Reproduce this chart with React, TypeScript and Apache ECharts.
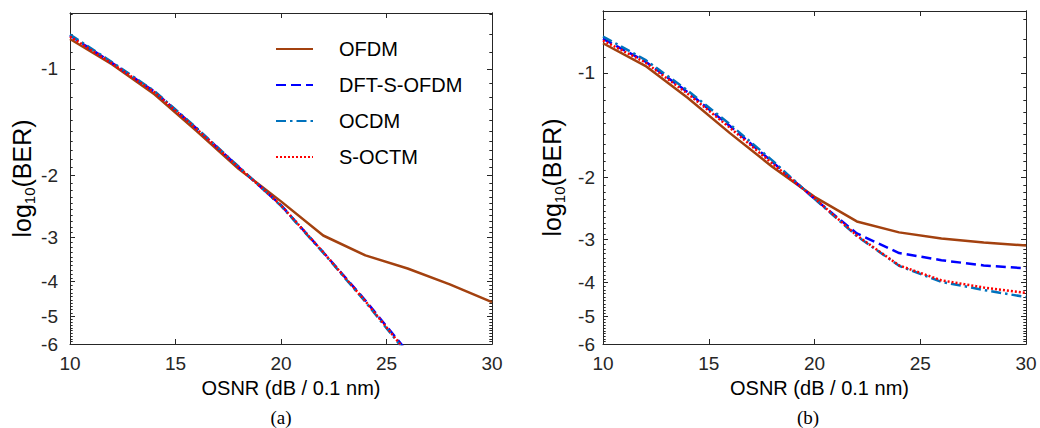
import { useEffect, useRef } from "react";
import * as echarts from "echarts";

// OSNR (dB / 0.1 nm) sample points
const osnr = [10, 12, 14, 16, 18, 20, 22, 24, 26, 28, 30];
const osnrSteep = [10, 12, 14, 16, 18, 20, 22, 24, 26];

// y tick labels (log10 BER)
const yMajorTicks = [-1, -2, -3, -4, -5, -6];

// (a) log10(BER)
const ofdmA = [-0.823, -0.972, -1.18, -1.5, -1.92, -2.37, -2.96, -3.37, -3.67, -4.07, -4.57];
const dftA = [-0.805, -0.962, -1.16, -1.474, -1.898, -2.43, -3.3, -4.52, -6.32];
const ocdmA = [-0.8, -0.958, -1.156, -1.47, -1.892, -2.44, -3.31, -4.56, -6.42];
const soctmA = [-0.81, -0.966, -1.164, -1.478, -1.9, -2.43, -3.3, -4.54, -6.38];

// (b) log10(BER)
const ofdmB = [-0.823, -0.955, -1.18, -1.49, -1.86, -2.27, -2.67, -2.87, -2.99, -3.07, -3.13];
const dftB = [-0.799, -0.928, -1.136, -1.422, -1.8, -2.3, -2.89, -3.29, -3.45, -3.57, -3.64];
const ocdmB = [-0.787, -0.918, -1.124, -1.406, -1.784, -2.3, -2.94, -3.58, -3.98, -4.2, -4.4];
const soctmB = [-0.808, -0.934, -1.148, -1.438, -1.82, -2.29, -2.93, -3.57, -3.94, -4.13, -4.28];

const names = ["OFDM", "DFT-S-OFDM", "OCDM", "S-OCTM"];
const colors = ["#A3410F", "#0000FF", "#0072BD", "#FF0000"];
const dashes: any[] = ["solid", [10, 5], [10, 4, 2.5, 4], [2, 2]];

const FONT = "'Liberation Sans', Arial, Helvetica, sans-serif";
const AX = "#262626";

// axis scale: log of |log10(BER)|
const toY = (l: number) => Math.log10(-l);
const majorY = yMajorTicks.map(toY);
const minorY: number[] = [];
for (let k = 7; k <= 60; k++) minorY.push(toY(-k / 10));

function pairs(xs: number[], ys: number[]) {
  return ys.map((v, i) => [xs[i], toY(v)]);
}

function buildAxes(gi: number, yminMag: number, labelMargin: number, nameGap: number, titleShift: number) {
  const ymin = Math.log10(yminMag);
  const ymax = Math.log10(6);
  const lineStyle = { color: AX, width: 1 };
  const base = {
    type: "value",
    gridIndex: gi,
    min: ymin,
    max: ymax,
    inverse: true,
    splitLine: { show: false },
    axisLine: { show: true, onZero: false, lineStyle },
  };
  const major = { show: true, inside: true, length: 5, customValues: majorY, lineStyle };
  const minor = { show: true, inside: true, length: 2.7, customValues: minorY, lineStyle };
  const yAxes = [
    {
      ...base,
      position: "left",
      axisTick: major,
      axisLabel: {
        show: true,
        customValues: majorY,
        formatter: (v: number) => "-" + Math.round(Math.pow(10, v)),
        margin: labelMargin,
        fontSize: 19,
        color: AX,
        fontFamily: FONT,
      },
      name: "{a|log}{s|10}{a|(BER)}",
      nameLocation: "middle",
      nameRotate: 90,
      nameGap,
      nameTextStyle: {
        rich: {
          a: { fontSize: 25, lineHeight: 30, color: "#000", fontFamily: FONT },
          s: { fontSize: 15, verticalAlign: "bottom", color: "#000", fontFamily: FONT },
        },
      },
    },
    { ...base, position: "right", axisTick: major, axisLabel: { show: false } },
    { ...base, position: "left", axisTick: minor, axisLabel: { show: false } },
    { ...base, position: "right", axisTick: minor, axisLabel: { show: false } },
  ];
  const xbase = {
    type: "value",
    gridIndex: gi,
    min: 10,
    max: 30,
    interval: 5,
    splitLine: { show: false },
    axisLine: { show: true, onZero: false, lineStyle },
    axisTick: { show: true, inside: true, length: 5, lineStyle },
  };
  const xAxes = [
    {
      ...xbase,
      position: "bottom",
      axisLabel: { show: true, margin: 10, fontSize: 19, color: AX, fontFamily: FONT },
      name: "OSNR (dB / 0.1 nm)",
      nameLocation: "middle",
      nameGap: 34,
      nameTextStyle: { fontSize: 20, color: "#000", fontFamily: FONT, padding: [0, 0, 0, titleShift * 2] },
    },
    { ...xbase, position: "top", axisLabel: { show: false } },
  ];
  return { xAxes, yAxes };
}

export default function App() {
  const ref = useRef<HTMLDivElement>(null);
  useEffect(() => {
    if (!ref.current) return;
    const chart = echarts.init(ref.current, undefined, { renderer: "svg" });
    const a = buildAxes(0, 0.695, 12, 32, 10);
    const b = buildAxes(1, 0.665, 8, 36, 5);
    const mk = (i: number, data: number[][], xi: number, yi: number) => ({
      type: "line",
      name: names[i],
      data,
      xAxisIndex: xi,
      yAxisIndex: yi,
      symbol: "none",
      showSymbol: false,
      clip: true,
      lineStyle: { color: colors[i], width: 2.5, type: dashes[i] },
      itemStyle: { color: colors[i] },
      z: 2 + i,
    });
    chart.setOption({
      animation: false,
      backgroundColor: "#fff",
      grid: [
        { left: 70, top: 13, width: 422, height: 331 },
        { left: 603, top: 11, width: 423, height: 333 },
      ],
      xAxis: [...a.xAxes, ...b.xAxes],
      yAxis: [...a.yAxes, ...b.yAxes],
      legend: {
        show: true,
        orient: "vertical",
        left: 270,
        top: 34,
        itemWidth: 37,
        itemHeight: 14,
        itemGap: 16,
        data: names,
        itemStyle: { opacity: 0 },
        textStyle: { fontSize: 20, color: "#000", fontFamily: FONT, padding: [0, 0, 0, 21] },
      },
      graphic: [
        {
          type: "text",
          x: 281,
          y: 417,
          style: { text: "(a)", fontSize: 19, fontFamily: "'Liberation Serif', 'Times New Roman', serif", fill: "#000", align: "center", verticalAlign: "middle" },
        },
        {
          type: "text",
          x: 808,
          y: 417,
          style: { text: "(b)", fontSize: 19, fontFamily: "'Liberation Serif', 'Times New Roman', serif", fill: "#000", align: "center", verticalAlign: "middle" },
        },
      ],
      series: [
        mk(0, pairs(osnr, ofdmA), 0, 0),
        mk(1, pairs(osnrSteep, dftA), 0, 0),
        mk(2, pairs(osnrSteep, ocdmA), 0, 0),
        mk(3, pairs(osnrSteep, soctmA), 0, 0),
        mk(0, pairs(osnr, ofdmB), 2, 4),
        mk(1, pairs(osnr, dftB), 2, 4),
        mk(2, pairs(osnr, ocdmB), 2, 4),
        mk(3, pairs(osnr, soctmB), 2, 4),
      ],
    });
    return () => chart.dispose();
  }, []);
  return (
    <div
      ref={ref}
      style={{ position: "fixed", left: 0, top: 0, width: 1040, height: 428, background: "#fff" }}
    />
  );
}
